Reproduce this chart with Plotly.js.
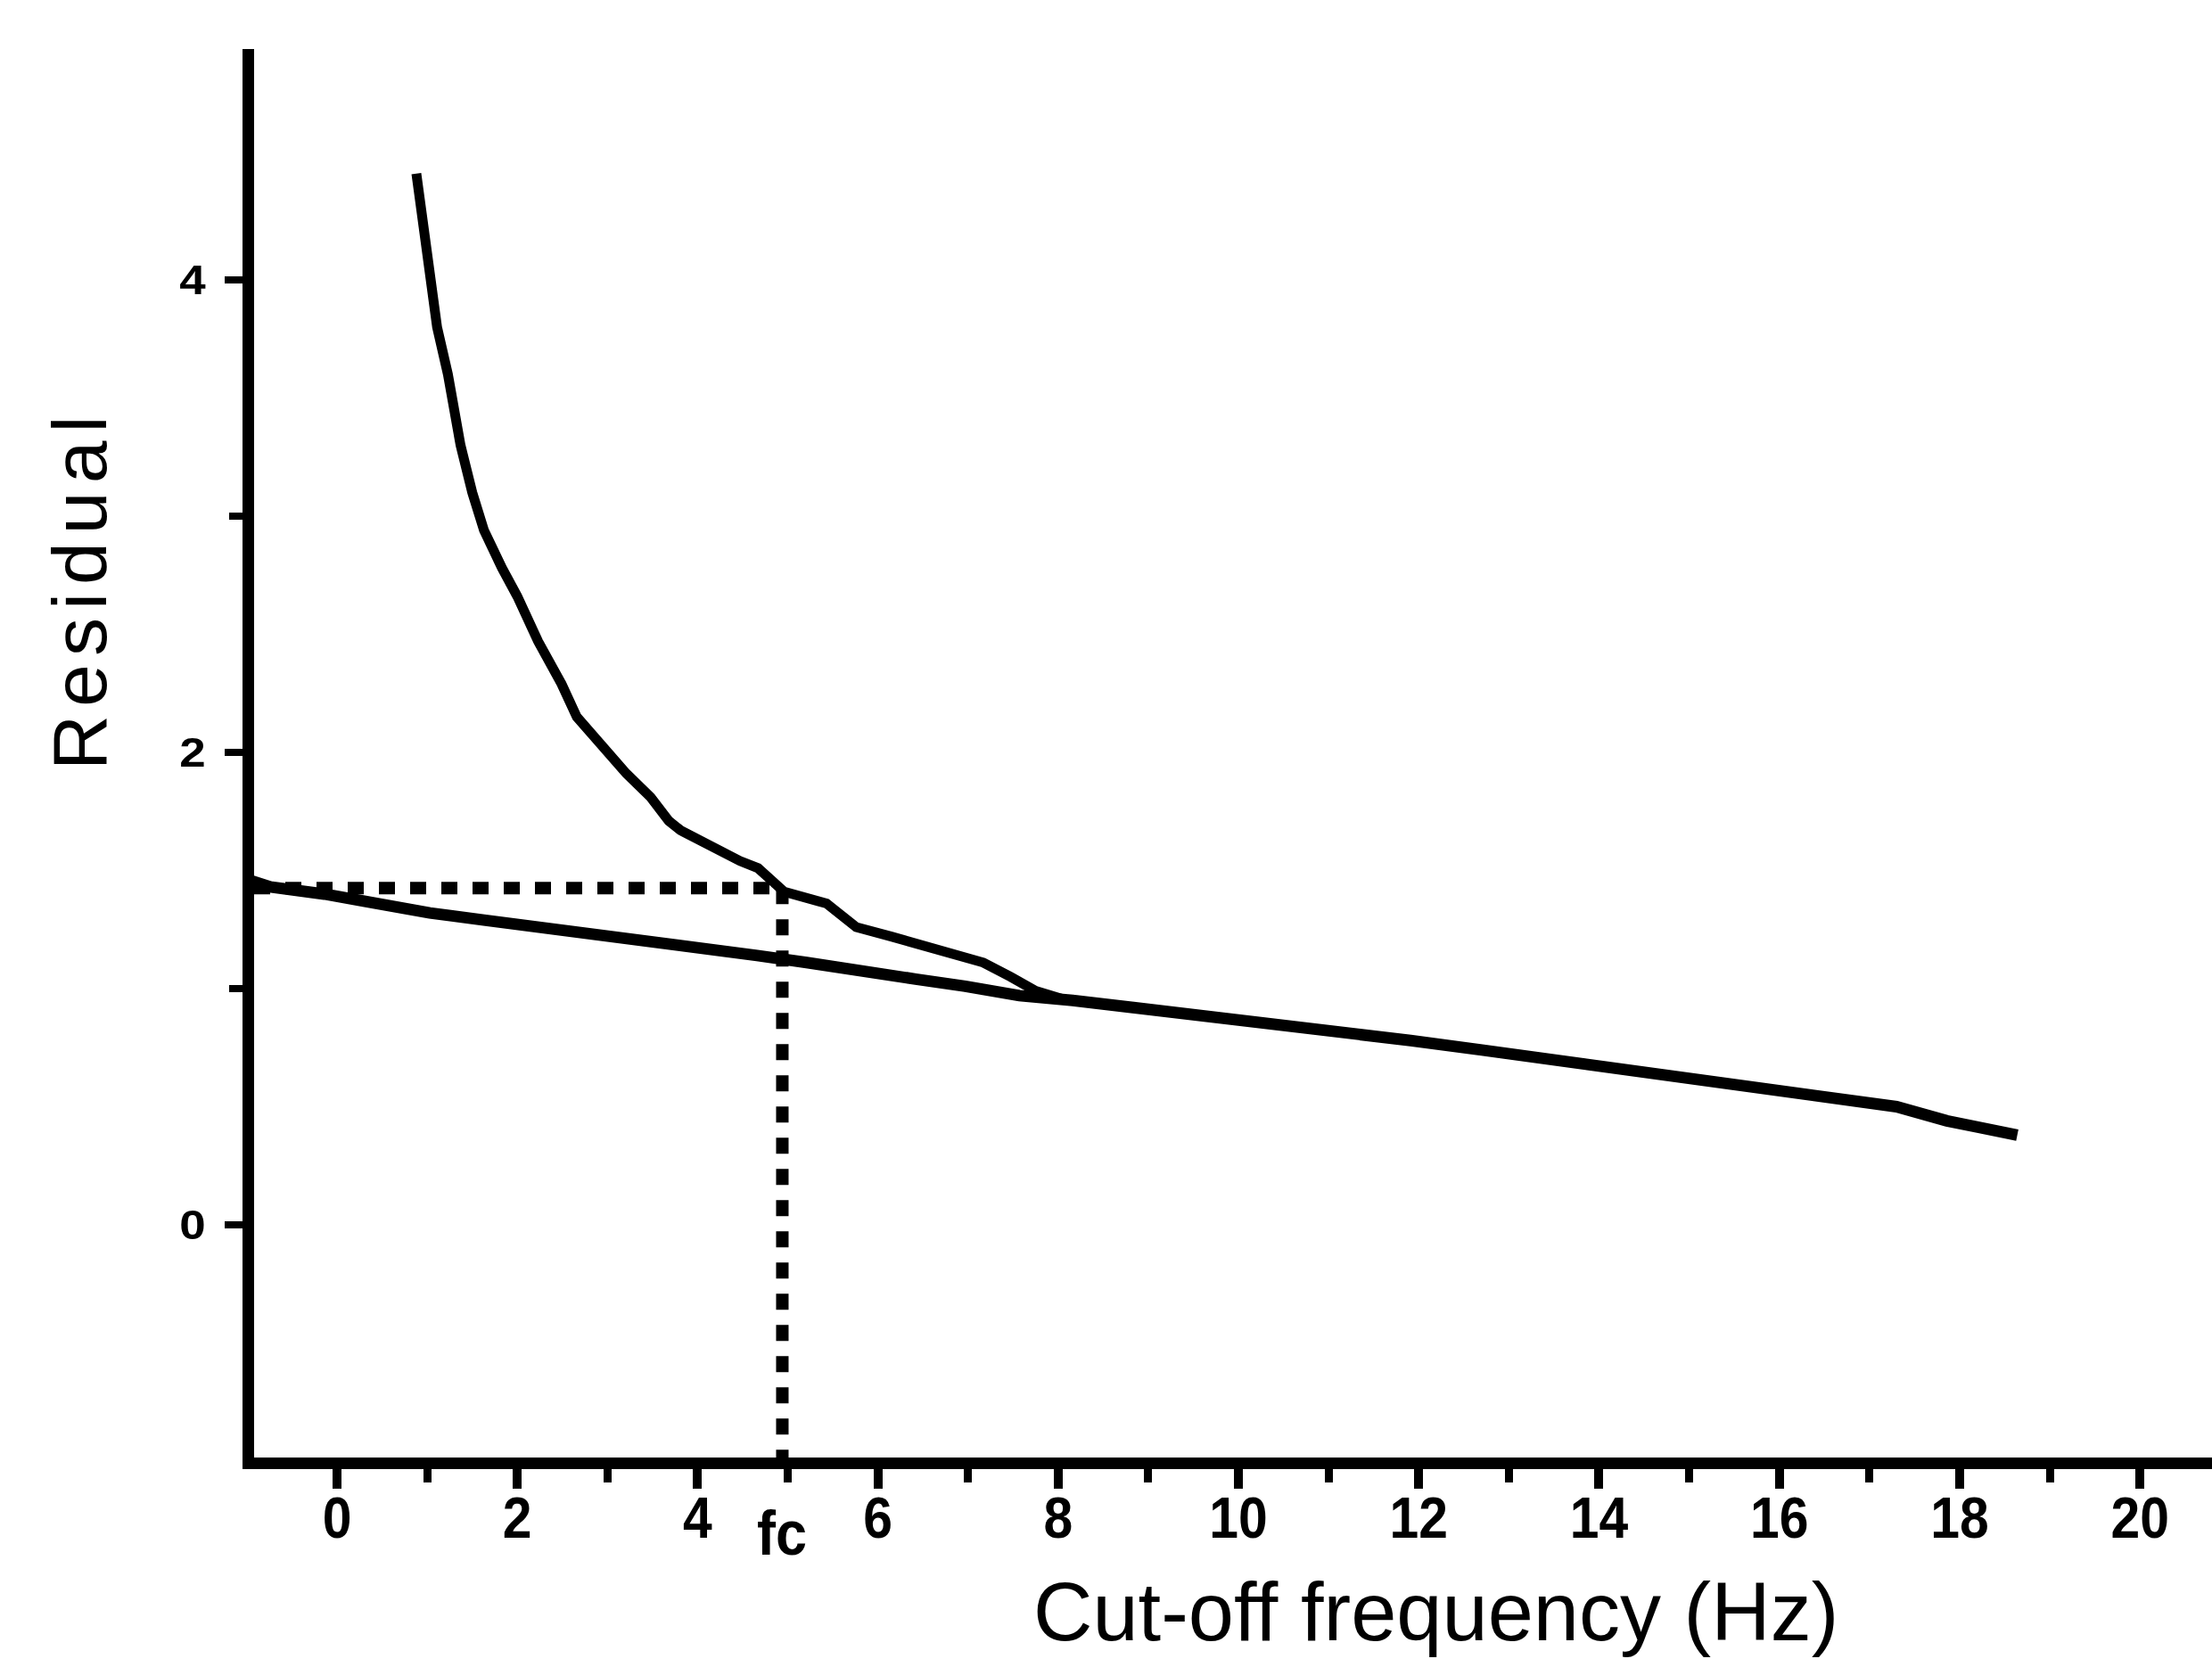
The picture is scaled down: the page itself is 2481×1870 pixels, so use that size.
<!DOCTYPE html>
<html>
<head>
<meta charset="utf-8">
<script src="https://cdn.plot.ly/plotly-3.0.1.min.js"></script>
<style>html,body{margin:0;padding:0;background:#fff;}#chart{width:2481px;height:1870px;}</style>
</head>
<body>
<div id="chart"></div>
<script>
// Residual vs cut-off frequency: signal+noise curve (upper) and noise line (lower)
const upperX = [0.88, 0.98, 1.11, 1.23, 1.37, 1.50, 1.63, 1.83, 2.00, 2.23, 2.49, 2.66, 2.89, 3.21, 3.48, 3.68, 3.81, 4.14, 4.47, 4.67, 4.96, 5.43, 5.76, 6.15, 6.65, 7.17, 7.47, 7.75, 8.10];
const upperY = [4.45, 4.15, 3.80, 3.60, 3.30, 3.10, 2.94, 2.78, 2.66, 2.47, 2.29, 2.15, 2.05, 1.91, 1.81, 1.71, 1.67, 1.60, 1.54, 1.51, 1.41, 1.36, 1.26, 1.22, 1.17, 1.11, 1.05, 0.99, 0.95];
const lowerX = [-0.98, -0.74, -0.14, 0.42, 1.03, 1.63, 2.28, 2.84, 3.44, 4.06, 4.66, 5.21, 5.83, 6.42, 6.97, 7.57, 8.16, 8.85, 9.45, 10.34, 11.1, 11.91, 12.7, 13.47, 14.3, 15.04, 15.8, 16.6, 17.3, 17.86, 18.3, 18.64];
const lowerY = [1.46, 1.43, 1.40, 1.36, 1.32, 1.29, 1.26, 1.23, 1.20, 1.17, 1.14, 1.11, 1.07, 1.04, 1.01, 0.97, 0.95, 0.92, 0.89, 0.86, 0.82, 0.78, 0.74, 0.70, 0.66, 0.62, 0.58, 0.54, 0.50, 0.44, 0.41, 0.38];
const fcX = 4.94;      // cut-off frequency fc
const fcY = 1.425;     // residual level read at fc
const xTickVals = [0, 2, 4, 6, 8, 10, 12, 14, 16, 18, 20];
const xTickText = ['0', '2', '4', '6', '8', '10', '12', '14', '16', '18', '20'];
const yTickVals = [0, 2, 4];
const yTickText = ['0', '2', '4'];
const xRange = [-0.92, 20.8];
const yRange = [-0.985, 4.977];
const xTitle = 'Cut-off frequency (Hz)';
const yTitle = 'Residual';
const fcLabel = 'fc';

const fam = 'Liberation Sans, Arial, sans-serif';

const traces = [
  {x: [xRange[0], fcX], y: [fcY, fcY], mode: 'lines', line: {color: '#000', width: 14, dash: '18px,17px'}, hoverinfo: 'skip'},
  {x: [fcX, fcX], y: [fcY, yRange[0]], mode: 'lines', line: {color: '#000', width: 14, dash: '18px,17px'}, hoverinfo: 'skip'},
  {x: lowerX, y: lowerY, mode: 'lines', line: {color: '#000', width: 13}},
  {x: upperX, y: upperY, mode: 'lines', line: {color: '#000', width: 11}}
];

const layout = {
  width: 2481, height: 1870,
  margin: {l: 285, r: 0, t: 55, b: 235, pad: 0},
  paper_bgcolor: '#fff', plot_bgcolor: '#fff',
  showlegend: false,
  font: {family: fam, color: '#000'},
  xaxis: {
    range: xRange, showgrid: false, zeroline: false,
    showline: true, linecolor: '#000', linewidth: 13,
    ticks: 'outside', ticklen: 22, tickwidth: 10, tickcolor: '#000',
    tickmode: 'array', tickvals: xTickVals, ticktext: xTickText,
    tickfont: {size: 64, family: fam, weight: 'bold', color: '#000'},
    ticklabelstandoff: -22,
    minor: {tick0: -1, dtick: 1, ticks: 'outside', ticklen: 15, tickwidth: 9, tickcolor: '#000', showgrid: false}
  },
  yaxis: {
    range: yRange, showgrid: false, zeroline: false,
    showline: true, linecolor: '#000', linewidth: 13,
    ticks: 'outside', ticklen: 20, tickwidth: 8, tickcolor: '#000',
    tickmode: 'array', tickvals: yTickVals, ticktext: yTickText,
    tickfont: {size: 46, family: fam, weight: 'bold', color: '#000'},
    ticklabelstandoff: 12,
    minor: {tick0: -1, dtick: 1, ticks: 'outside', ticklen: 15, tickwidth: 8, tickcolor: '#000', showgrid: false}
  },
  annotations: [
    {x: fcX, xref: 'x', y: -0.0538, yref: 'paper', text: fcLabel, showarrow: false, xanchor: 'center', yanchor: 'middle',
     font: {size: 70, family: fam, weight: 'bold', color: '#000'}},
    {x: 0.6038, xref: 'paper', y: -0.1095, yref: 'paper', text: xTitle, showarrow: false, xanchor: 'center', yanchor: 'middle',
     font: {size: 92, family: fam, color: '#000'}},
    {x: -0.0893, xref: 'paper', y: 0.617, yref: 'paper', text: yTitle, showarrow: false, textangle: -90, xanchor: 'center', yanchor: 'middle',
     font: {size: 86, family: fam, color: '#000'}}
  ]
};

function squeeze(t, s) {
  const x = parseFloat(t.getAttribute('x') || '0');
  const tr = t.getAttribute('transform') || '';
  t.setAttribute('transform', tr + ' translate(' + x + ',0) scale(' + s + ',1) translate(' + (-x) + ',0)');
}

Plotly.newPlot('chart', traces, layout, {displayModeBar: false, staticPlot: true}).then(function (gd) {
  gd.querySelectorAll('.xtick text').forEach(function (t) { squeeze(t, 0.92); });
  gd.querySelectorAll('.ytick text').forEach(function (t) { squeeze(t, 1.15); });
  const ann = gd.querySelectorAll('.annotation-text');
  if (ann[0]) squeeze(ann[0], 0.9);
  if (ann[2]) ann[2].style.letterSpacing = '9px';
});
</script>
</body>
</html>
